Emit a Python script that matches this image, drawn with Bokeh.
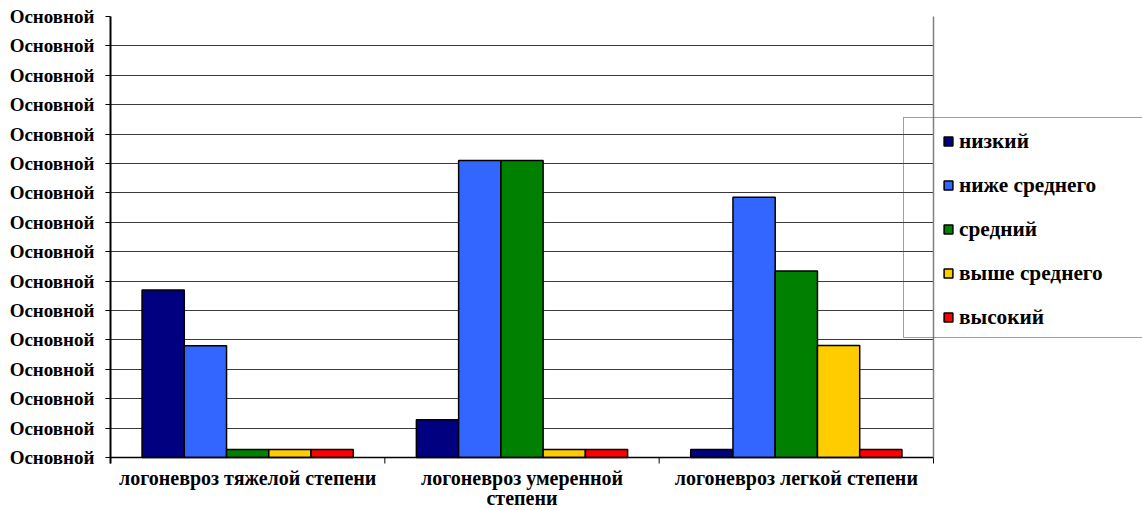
import numpy as np
from bokeh.plotting import figure
from bokeh.models import (Range1d, FixedTicker, Legend, LegendItem, ColumnDataSource,
                          BoxAnnotation)
from bokeh.core.properties import value
from bokeh.embed import file_html
from bokeh.resources import INLINE

categories = ["логоневроз тяжелой степени", "логоневроз умеренной\nстепени", "логоневроз легкой степени"]
series = ["низкий", "ниже среднего", "средний", "выше среднего", "высокий"]
colors = ["#000080", "#3366FF", "#008000", "#FFCC00", "#FF0000"]
nizkiy = [5.7, 1.28, 0.27]
nizhe_srednego = [3.8, 10.1, 8.85]
sredniy = [0.27, 10.1, 6.34]
vyshe_srednego = [0.27, 0.27, 3.81]
vysokiy = [0.27, 0.27, 0.27]
values = [nizkiy, nizhe_srednego, sredniy, vyshe_srednego, vysokiy]
y_ticks = list(range(0, 16))
y_tick_label = "Основной"

FONT = "Liberation Serif"
n_cat = len(categories)
y_max = 15

# layout constants (pixels)
W, H = 1142, 510
LEFT, TOP = 110, 16
PLOT_R, PLOT_B = 933, 457
unit = (PLOT_B - TOP) / y_max                 # px per y unit
x_end = n_cat * (W - LEFT) / (PLOT_R - LEFT)   # frame spans to right edge
y_min = -(H - PLOT_B) / unit                   # frame spans to bottom edge
tick_len = 6 / unit

p = figure(width=W, height=H, output_backend="svg", toolbar_location=None,
           x_axis_location=None,
           x_range=Range1d(0, x_end), y_range=Range1d(y_min, y_max),
           min_border_left=LEFT, min_border_right=0, min_border_top=TOP, min_border_bottom=0)

bar_w = 0.154
centers = np.arange(n_cat) + 0.5
for j, (name, col, vals) in enumerate(zip(series, colors, values)):
    src = ColumnDataSource(dict(x=centers + (j - 2) * bar_w, top=vals))
    p.vbar(x="x", top="top", width=bar_w, bottom=0, source=src,
           fill_color=col, line_color="black", line_width=1.5)

# y axis
yt = FixedTicker(ticks=y_ticks)
p.yaxis.ticker = yt
p.yaxis.bounds = (-tick_len, y_max)
p.yaxis.major_label_overrides = {t: y_tick_label for t in y_ticks}
p.yaxis.major_label_text_font = FONT
p.yaxis.major_label_text_font_style = "bold"
p.yaxis.major_label_text_font_size = "19px"
p.yaxis.major_label_text_color = "black"
p.yaxis.major_tick_out = 5
p.yaxis.major_tick_in = 0
p.yaxis.minor_tick_line_color = None
p.yaxis.axis_line_color = "black"
p.yaxis.axis_line_width = 2
p.yaxis.major_tick_line_color = "black"
p.yaxis.major_label_standoff = 11

p.xgrid.grid_line_color = None
p.ygrid.ticker = yt
p.ygrid.grid_line_color = "#3a3a3a"
p.ygrid.grid_line_width = 1
p.outline_line_color = None
p.background_fill_color = "white"

# blank area right of the plot area
p.add_layout(BoxAnnotation(left=n_cat, fill_color="white", fill_alpha=1, line_color=None))

# category axis: line, boundary ticks, labels
bounds_x = np.arange(n_cat + 1)
ax = p.segment(x0=[0], y0=[0], x1=[n_cat], y1=[0], line_color="black", line_width=1.5)
ax.level = "overlay"
tk = p.segment(x0=bounds_x, y0=0, x1=bounds_x, y1=-tick_len, line_color="black", line_width=1)
tk.level = "overlay"
rb = p.segment(x0=[n_cat], y0=[0], x1=[n_cat], y1=[y_max], line_color="#808080", line_width=1.5)
rb.level = "overlay"
p.text(x=centers, y=-9 / unit, text=categories, text_align="center", text_baseline="top",
       text_font=value(FONT), text_font_style="bold", text_font_size="20px",
       text_line_height=0.95, text_color="black")

# legend box (drawn as an empty legend)
dummy = p.scatter(x=[np.nan], y=[np.nan], fill_alpha=0, line_alpha=0)
box = Legend(items=[LegendItem(label=" ", renderers=[dummy])], location=(903 - LEFT, H - 338),
             padding=0, margin=0, spacing=0, glyph_width=1, glyph_height=219,
             label_height=219, label_width=239, label_standoff=0,
             border_line_color="#404040", border_line_width=1.2,
             background_fill_alpha=0)
p.add_layout(box, "center")

items = []
for name, col in zip(series, colors):
    r = p.scatter(x=[np.nan], y=[np.nan], marker="square", fill_color=col,
                  line_color="black", line_width=1.5)
    items.append(LegendItem(label=name, renderers=[r]))
leg = Legend(items=items, location=(937 - LEFT, H - 339), padding=0, margin=0, spacing=0,
             glyph_width=22, glyph_height=44, label_height=44, label_standoff=0,
             label_text_font=FONT, label_text_font_style="bold", label_text_font_size="21.3px",
             label_text_color="black", border_line_color=None, background_fill_alpha=0)
p.add_layout(leg, "center")

open("out.html", "w").write(file_html(p, INLINE))
